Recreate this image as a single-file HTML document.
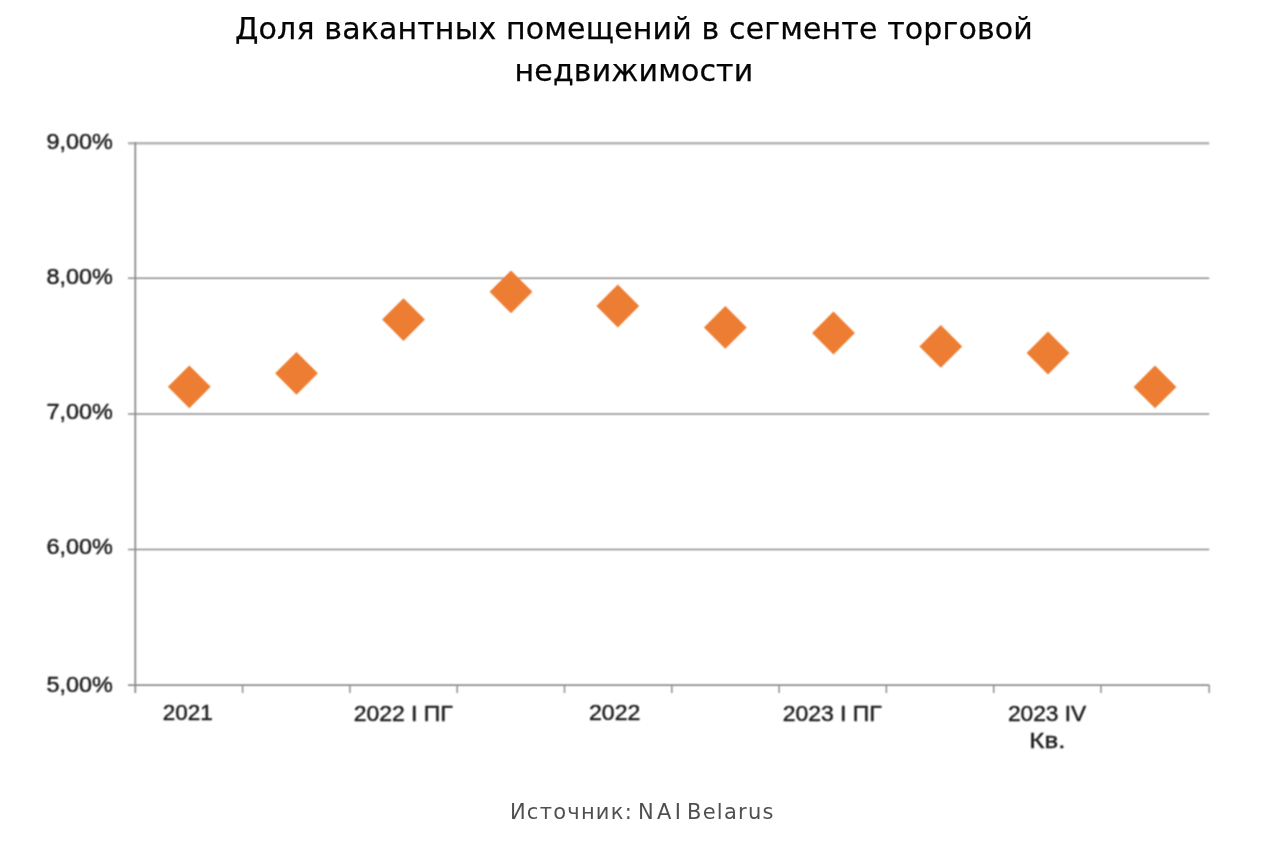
<!DOCTYPE html>
<html lang="ru">
<head>
<meta charset="utf-8">
<title>Доля вакантных помещений в сегменте торговой недвижимости</title>
<style>
  html, body { margin: 0; padding: 0; background: #ffffff; }
  body { width: 1280px; height: 844px; position: relative; overflow: hidden; }
  .title {
    position: absolute; left: 0; top: 8px; width: 1268px;
    text-align: center;
    font-family: "DejaVu Sans", "Liberation Sans", sans-serif;
    font-size: 30px; line-height: 42px; color: #050505; -webkit-text-stroke: 0.25px #050505;
    letter-spacing: 0.15px;
  }
  .source {
    position: absolute; left: 0; top: 797px; width: 1284.6px;
    text-align: center;
    font-family: "DejaVu Sans", "Liberation Sans", sans-serif;
    font-size: 21px; line-height: 30px; color: #505050;
    letter-spacing: 1.25px; word-spacing: -3px;
  }
  svg { position: absolute; left: 0; top: 0; }
  svg text { font-family: "Liberation Sans", sans-serif; font-size: 22.4px; fill: #1c1c1c; stroke: #1c1c1c; stroke-width: 0.45px; }
</style>
</head>
<body>
<div class="title">Доля вакантных помещений в сегменте торговой<br>недвижимости</div>

<svg width="1280" height="844" viewBox="0 0 1280 844">
  <defs><filter id="soft" x="-2%" y="-2%" width="104%" height="104%"><feConvolveMatrix order="3" kernelMatrix="1 2 1 2 4 2 1 2 1" divisor="16" edgeMode="none" preserveAlpha="false"/></filter></defs>
  <g filter="url(#soft)">
  <g fill="none">
    <line x1="128" y1="143.2" x2="1209.2" y2="143.2" stroke="#b4b4b4" stroke-width="2.6"/>
    <line x1="128" y1="278.3" x2="1209.2" y2="278.3" stroke="#8e8e8e" stroke-width="1.5"/>
    <line x1="128" y1="414.0" x2="1209.2" y2="414.0" stroke="#8e8e8e" stroke-width="1.5"/>
    <line x1="128" y1="549.5" x2="1209.2" y2="549.5" stroke="#8e8e8e" stroke-width="1.5"/>
    <line x1="128" y1="685.1" x2="1209.2" y2="685.1" stroke="#8e8e8e" stroke-width="1.6"/>
    <line x1="135.3" y1="142.2" x2="135.3" y2="693" stroke="#888888" stroke-width="1.7"/>
    <line x1="242.60" y1="685.1" x2="242.60" y2="693" stroke="#8e8e8e" stroke-width="1.5"/>
    <line x1="349.90" y1="685.1" x2="349.90" y2="693" stroke="#8e8e8e" stroke-width="1.5"/>
    <line x1="457.20" y1="685.1" x2="457.20" y2="693" stroke="#8e8e8e" stroke-width="1.5"/>
    <line x1="564.50" y1="685.1" x2="564.50" y2="693" stroke="#8e8e8e" stroke-width="1.5"/>
    <line x1="671.80" y1="685.1" x2="671.80" y2="693" stroke="#8e8e8e" stroke-width="1.5"/>
    <line x1="779.10" y1="685.1" x2="779.10" y2="693" stroke="#8e8e8e" stroke-width="1.5"/>
    <line x1="886.40" y1="685.1" x2="886.40" y2="693" stroke="#8e8e8e" stroke-width="1.5"/>
    <line x1="993.70" y1="685.1" x2="993.70" y2="693" stroke="#8e8e8e" stroke-width="1.5"/>
    <line x1="1101.00" y1="685.1" x2="1101.00" y2="693" stroke="#8e8e8e" stroke-width="1.5"/>
    <line x1="1209.20" y1="685.1" x2="1209.20" y2="693" stroke="#8e8e8e" stroke-width="1.5"/>
  </g>
  <g fill="#ec7d31">
    <path d="M189.30 365.40 l21.4 21.4 l-21.4 21.4 l-21.4 -21.4 z"/>
    <path d="M296.50 351.90 l21.4 21.4 l-21.4 21.4 l-21.4 -21.4 z"/>
    <path d="M403.50 298.20 l21.4 21.4 l-21.4 21.4 l-21.4 -21.4 z"/>
    <path d="M511.00 270.40 l21.4 21.4 l-21.4 21.4 l-21.4 -21.4 z"/>
    <path d="M617.80 284.60 l21.4 21.4 l-21.4 21.4 l-21.4 -21.4 z"/>
    <path d="M725.30 306.00 l21.4 21.4 l-21.4 21.4 l-21.4 -21.4 z"/>
    <path d="M833.50 311.60 l21.4 21.4 l-21.4 21.4 l-21.4 -21.4 z"/>
    <path d="M940.80 325.00 l21.4 21.4 l-21.4 21.4 l-21.4 -21.4 z"/>
    <path d="M1048.00 331.60 l21.4 21.4 l-21.4 21.4 l-21.4 -21.4 z"/>
    <path d="M1155.00 365.50 l21.4 21.4 l-21.4 21.4 l-21.4 -21.4 z"/>
  </g>
  <g>
    <text x="46.40" y="148.60" textLength="66.40" lengthAdjust="spacingAndGlyphs">9,00%</text>
    <text x="46.40" y="283.70" textLength="66.40" lengthAdjust="spacingAndGlyphs">8,00%</text>
    <text x="46.40" y="418.90" textLength="66.40" lengthAdjust="spacingAndGlyphs">7,00%</text>
    <text x="46.40" y="554.20" textLength="66.40" lengthAdjust="spacingAndGlyphs">6,00%</text>
    <text x="46.40" y="692.00" textLength="66.40" lengthAdjust="spacingAndGlyphs">5,00%</text>
    <text x="162.85" y="720.00" textLength="49.88" lengthAdjust="spacingAndGlyphs">2021</text>
    <text x="353.70" y="720.70" textLength="99.01" lengthAdjust="spacingAndGlyphs">2022 I ПГ</text>
    <text x="589.06" y="719.80" textLength="51.27" lengthAdjust="spacingAndGlyphs">2022</text>
    <text x="782.70" y="720.70" textLength="99.01" lengthAdjust="spacingAndGlyphs">2023 I ПГ</text>
    <text x="1008.00" y="720.80" textLength="78.22" lengthAdjust="spacingAndGlyphs">2023 IV</text>
    <text x="1029.38" y="747.90" textLength="35.94" lengthAdjust="spacingAndGlyphs">Кв.</text>
  </g>
  </g>
</svg>

<div class="source">Источник: <span style="letter-spacing:3.3px">NA</span>I Belarus</div>
</body>
</html>
